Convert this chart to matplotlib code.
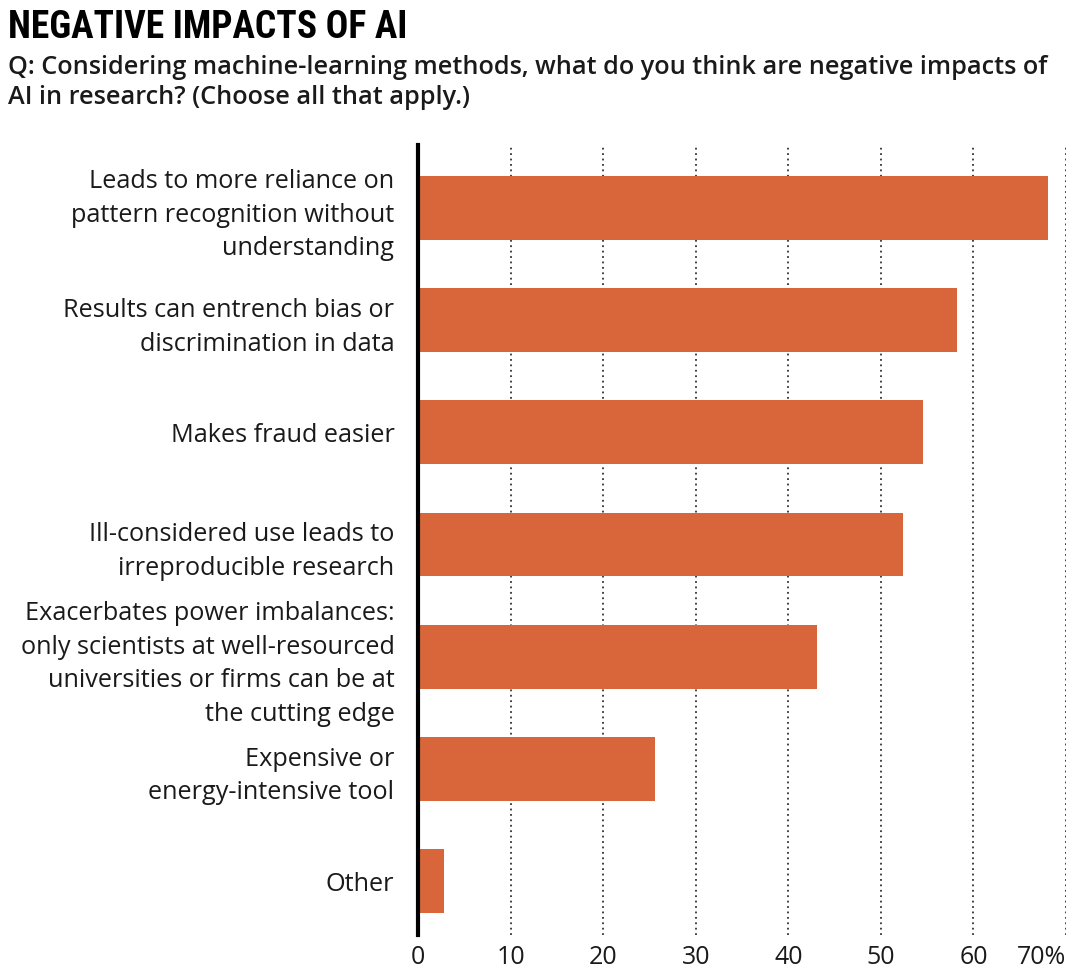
import numpy as np
import matplotlib
matplotlib.use("Agg")
import matplotlib.pyplot as plt

# survey answers, top to bottom
labels = [
    "Leads to more reliance on\npattern recognition without\nunderstanding",
    "Results can entrench bias or\ndiscrimination in data",
    "Makes fraud easier",
    "Ill-considered use leads to\nirreproducible research",
    "Exacerbates power imbalances:\nonly scientists at well-resourced\nuniversities or firms can be at\nthe cutting edge",
    "Expensive or\nenergy-intensive tool",
    "Other",
]
values = [68.1, 58.2, 54.5, 52.4, 43.1, 25.6, 2.8]
xticks = [0, 10, 20, 30, 40, 50, 60, 70]
xtick_labels = ["0", "10", "20", "30", "40", "50", "60", "70%"]

title = "NEGATIVE IMPACTS OF AI"
subtitle = ("Q: Considering machine-learning methods, what do you think are negative impacts of\n"
            "AI in research? (Choose all that apply.)")

bar_color = "#d9663a"
text_color = "#1a1a1a"

plt.rcParams["font.family"] = ["Open Sans", "DejaVu Sans"]

W, H = 1080, 969
fig = plt.figure(figsize=(W / 100, H / 100), dpi=100)
ax = fig.add_axes([418 / W, 1 - 935 / H, (1066 - 418) / W, (935 - 145) / H])

y = np.arange(len(values))
ax.barh(y, values, height=0.57, color=bar_color, zorder=3)

ax.set_xlim(0, 70)
ax.set_ylim(6.48, -0.56)

for t in xticks[1:]:
    ax.axvline(t, color="#333333", linestyle=(0, (1, 2)), linewidth=1.3, zorder=1)

ax.set_xticks(xticks)
ax.set_xticklabels(xtick_labels, fontsize=18, color=text_color)
ax.get_xticklabels()[-1].set_horizontalalignment("right")
ax.set_yticks(y)
ax.set_yticklabels(labels, fontsize=18.2, color=text_color, linespacing=1.45)
ax.tick_params(axis="x", length=0, pad=7)
ax.tick_params(axis="y", length=0, pad=17)

for s in ["top", "right", "bottom"]:
    ax.spines[s].set_visible(False)
ax.spines["left"].set_linewidth(3)
ax.spines["left"].set_color("black")
ax.spines["left"].set_zorder(4)

fig.text(8 / W, 1 - 9 / H, title, fontsize=27, fontweight="bold", fontstretch="condensed",
         family=["Roboto Condensed", "DejaVu Sans Condensed", "Noto Sans Condensed",
                 "Liberation Sans Narrow", "DejaVu Sans"],
         color="black", va="top", ha="left")
fig.text(8 / W, 1 - 55 / H, subtitle, fontsize=18.2, fontweight="semibold", color=text_color,
         va="top", ha="left", linespacing=1.27)

fig.savefig("out.png", dpi=100)
